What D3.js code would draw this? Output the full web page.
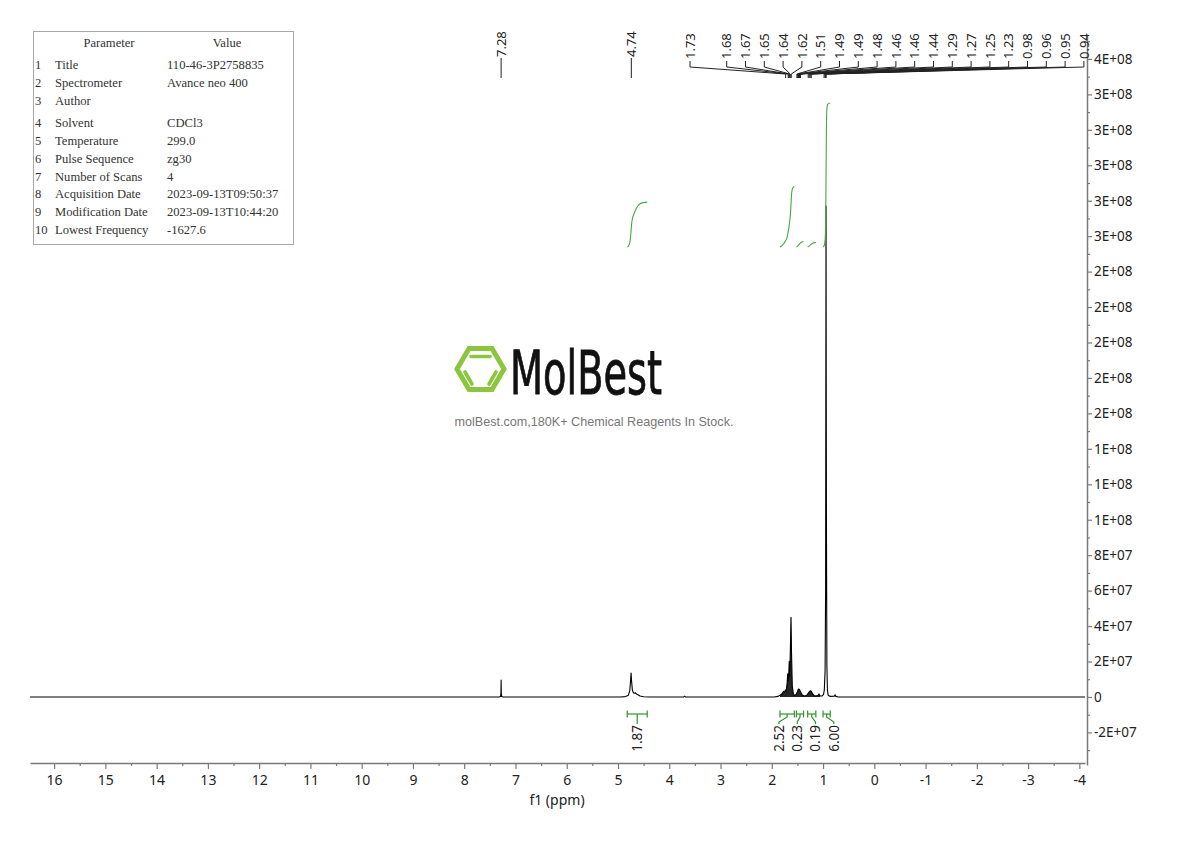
<!DOCTYPE html>
<html>
<head>
<meta charset="utf-8">
<script src="https://cdn.jsdelivr.net/npm/d3@7"></script>
<style>
  html, body { margin: 0; padding: 0; background: #fff; }
  svg { display: block; }
</style>
</head>
<body>
<svg id="chart" width="1190" height="841"></svg>
<script>
// ---------------- DATA ----------------
// spectrum: [ppm, intensity]
const spectrum = [
  [16.47, 0], [7.32, 0], [7.29, 3e5], [7.283, 2.5e6], [7.28, 9.6e6], [7.277, 2.5e6], [7.27, 3e5], [7.24, 0],
  [4.95, 0], [4.86, 2e5], [4.80, 8e5], [4.77, 3.5e6], [4.755, 9e6], [4.745, 1.35e7], [4.735, 9e6],
  [4.72, 4e6], [4.70, 2.4e6], [4.68, 2.1e6], [4.66, 2.3e6], [4.64, 1.6e6], [4.61, 1.2e6], [4.57, 5e5],
  [4.50, 1.5e5], [4.40, 0],
  [3.72, 0], [3.70, 4e5], [3.68, 0],
  [1.95, 0], [1.88, 3e5], [1.84, 9e5], [1.80, 1.8e6], [1.77, 3.2e6], [1.75, 2.5e6], [1.735, 4e6],
  [1.72, 3e6], [1.70, 8e6], [1.69, 1.3e7], [1.68, 9e6], [1.67, 1.1e7], [1.66, 2.0e7], [1.65, 1.2e7],
  [1.635, 3e7], [1.625, 4.5e7], [1.615, 2.5e7], [1.60, 6e6], [1.58, 2e6], [1.56, 8e5], [1.53, 1.2e6],
  [1.50, 3e6], [1.48, 4.5e6], [1.46, 4.2e6], [1.44, 3e6], [1.41, 1.2e6], [1.37, 5e5], [1.32, 8e5],
  [1.28, 2.5e6], [1.25, 3.5e6], [1.23, 3.2e6], [1.20, 1.5e6], [1.16, 5e5], [1.10, 8e5], [1.08, 1.7e6],
  [1.06, 6e5], [1.02, 5e5], [0.99, 1.5e6], [0.975, 4e6], [0.96, 1.5e7], [0.95, 6e7], [0.942, 2.77e8],
  [0.934, 1.0e8], [0.925, 1.8e7], [0.915, 4e6], [0.90, 1e6], [0.86, 3e5], [0.78, 4e5], [0.765, 1.2e6],
  [0.75, 3e5], [0.70, 0],
  [-4.11, 0]
];

// peak picking labels (ppm)
const singlePeaks = [7.28, 4.74];
const multipletPeaks = [1.73, 1.68, 1.67, 1.65, 1.64, 1.62, 1.51, 1.49, 1.49, 1.48, 1.46, 1.46, 1.44,
                        1.29, 1.27, 1.25, 1.23, 0.98, 0.96, 0.95, 0.94];

// integrals: ranges (ppm from, ppm to) and values
const integralFrom = [4.82, 1.84, 1.52, 1.30, 1.00];
const integralTo   = [4.43, 1.56, 1.38, 1.14, 0.86];
const integralValues = [1.87, 2.52, 0.23, 0.19, 6.00];

// axes ticks
const xTicks = [16, 15, 14, 13, 12, 11, 10, 9, 8, 7, 6, 5, 4, 3, 2, 1, 0, -1, -2, -3, -4];
const xTickLabels = ["16", "15", "14", "13", "12", "11", "10", "9", "8", "7", "6", "5", "4", "3", "2", "1", "0", "-1", "-2", "-3", "-4"];
const yTicks = [-2e7, 0, 2e7, 4e7, 6e7, 8e7, 1e8, 1.2e8, 1.4e8, 1.6e8, 1.8e8, 2e8, 2.2e8, 2.4e8, 2.6e8, 2.8e8, 3e8, 3.2e8, 3.4e8, 3.6e8];
const yTickLabels = ["-2E+07", "0", "2E+07", "4E+07", "6E+07", "8E+07", "1E+08", "1E+08", "1E+08", "2E+08", "2E+08", "2E+08", "2E+08", "2E+08", "3E+08", "3E+08", "3E+08", "3E+08", "3E+08", "4E+08"];

// parameter table
const paramNames = ["Title", "Spectrometer", "Author", "Solvent", "Temperature", "Pulse Sequence",
                    "Number of Scans", "Acquisition Date", "Modification Date", "Lowest Frequency"];
const paramValues = ["110-46-3P2758835", "Avance neo 400", "", "CDCl3", "299.0", "zg30", "4",
                     "2023-09-13T09:50:37", "2023-09-13T10:44:20", "-1627.6"];

// ---------------- CHART ----------------
const svg = d3.select("#chart");

const x = d3.scaleLinear().domain([16.47, -4.11]).range([30, 1085]);
const y = d3.scaleLinear().domain([-3.84e7, 3.735e8]).range([765, 35]);

const sans = "'Noto Sans', 'Open Sans', 'DejaVu Sans', sans-serif";

// ---- x axis ----
const xAxisY = 763;
const gx = svg.append("g").attr("transform", `translate(0,${xAxisY})`)
  .call(d3.axisBottom(x).tickValues(xTicks).tickFormat((d, i) => xTickLabels[i])
        .tickSize(6).tickSizeOuter(0).tickPadding(6));
gx.select(".domain").attr("stroke", "#7a7a7a").attr("stroke-width", 1.5);
gx.selectAll(".tick line").attr("stroke", "#7a7a7a").attr("stroke-width", 1.2);
gx.selectAll(".tick text").attr("font-family", sans).attr("font-size", 14).attr("fill", "#222");
const xMinor = xTicks.slice(0, -1).map(d => d - 0.5);
const gxm = svg.append("g").attr("transform", `translate(0,${xAxisY})`)
  .call(d3.axisBottom(x).tickValues(xMinor).tickFormat("").tickSize(3).tickSizeOuter(0));
gxm.select(".domain").remove();
gxm.selectAll(".tick line").attr("stroke", "#7a7a7a").attr("stroke-width", 1.2);
svg.append("text").attr("x", 557).attr("y", 805).attr("text-anchor", "middle")
  .attr("font-family", sans).attr("font-size", 14).attr("fill", "#222").text("f1 (ppm)");

// ---- y axis (right) ----
const yAxisX = 1087;
const gy = svg.append("g").attr("transform", `translate(${yAxisX},0)`)
  .call(d3.axisRight(y).tickValues(yTicks).tickFormat((d, i) => yTickLabels[i])
        .tickSize(5).tickSizeOuter(0).tickPadding(2));
gy.select(".domain").attr("stroke", "#7a7a7a").attr("stroke-width", 1.5);
gy.selectAll(".tick line").attr("stroke", "#7a7a7a").attr("stroke-width", 1.2);
gy.selectAll(".tick text").attr("font-family", sans).attr("font-size", 13.5).attr("fill", "#222");
const yMinor = yTicks.map(d => d + 1e7).filter(d => d <= 3.735e8);
yMinor.unshift(-3e7);
const gym = svg.append("g").attr("transform", `translate(${yAxisX},0)`)
  .call(d3.axisRight(y).tickValues(yMinor).tickFormat("").tickSize(3).tickSizeOuter(0));
gym.select(".domain").remove();
gym.selectAll(".tick line").attr("stroke", "#7a7a7a").attr("stroke-width", 1.2);

// ---- spectrum ----
const line = d3.line().x(d => x(d[0])).y(d => y(d[1]));
svg.append("path").datum(spectrum).attr("d", line)
  .attr("fill", "none").attr("stroke", "#000").attr("stroke-width", 1.1).attr("stroke-linejoin", "round");
const clusterPts = spectrum.filter(d => d[0] <= 1.84 && d[0] >= 1.06);
svg.append("path").datum(clusterPts)
  .attr("d", d3.area().x(d => x(d[0])).y0(y(0)).y1(d => y(d[1])))
  .attr("fill", "#000").attr("opacity", 0.85);

// ---- integrals ----
function interp(ppm) {
  for (let i = 0; i < spectrum.length - 1; i++) {
    const a = spectrum[i], b = spectrum[i + 1];
    if (ppm <= a[0] && ppm >= b[0]) {
      const t = (a[0] - ppm) / (a[0] - b[0]);
      return a[1] + t * (b[1] - a[1]);
    }
  }
  return 0;
}
const integralBase = 247, pxPerUnit = 24;
const greenCurve = "#4aa34a", greenBracket = "#2f932f";
integralValues.forEach((val, k) => {
  const hi = integralFrom[k], lo = integralTo[k];
  const pts = [[hi, interp(hi)]].concat(spectrum.filter(d => d[0] < hi && d[0] > lo)).concat([[lo, interp(lo)]]);
  const cum = [0];
  for (let i = 1; i < pts.length; i++) {
    cum.push(cum[i - 1] + (pts[i - 1][0] - pts[i][0]) * (pts[i - 1][1] + pts[i][1]) / 2);
  }
  const total = cum[cum.length - 1];
  const curve = pts.map((p, i) => [x(p[0]), integralBase - cum[i] / total * val * pxPerUnit]);
  svg.append("path").datum(curve).attr("d", d3.line().curve(d3.curveMonotoneX))
    .attr("fill", "none").attr("stroke", greenCurve).attr("stroke-width", 1.1);
});

// integral brackets + labels
const bY = 714;
const centers = integralValues.map((v, k) => (x(integralFrom[k]) + x(integralTo[k])) / 2);
const minGap = 18.3;
const labelX = centers.slice();
let groups = [[0]];
for (let k = 1; k < centers.length; k++) {
  if (centers[k] - centers[k - 1] < minGap) groups[groups.length - 1].push(k); else groups.push([k]);
}
groups.forEach(g => {
  if (g.length < 2) return;
  const m = d3.mean(g, k => centers[k]);
  g.forEach((k, j) => { labelX[k] = m + (j - (g.length - 1) / 2) * minGap; });
});
integralValues.forEach((val, k) => {
  const x1 = x(integralFrom[k]), x2 = x(integralTo[k]), cx = centers[k], lx = labelX[k];
  const g = svg.append("g").attr("stroke", greenBracket).attr("stroke-width", 1.2).attr("fill", "none");
  g.append("line").attr("x1", x1).attr("x2", x2).attr("y1", bY).attr("y2", bY);
  g.append("line").attr("x1", x1).attr("x2", x1).attr("y1", bY - 3.5).attr("y2", bY + 3.5);
  g.append("line").attr("x1", x2).attr("x2", x2).attr("y1", bY - 3.5).attr("y2", bY + 3.5);
  g.append("path").attr("d", `M${cx},${bY}L${cx},${bY + 3}L${lx},${bY + 8}L${lx},${bY + 10}`);
  svg.append("text").attr("transform", `translate(${lx},${bY + 11}) rotate(-90)`)
    .attr("text-anchor", "end").attr("dy", "0.36em")
    .attr("font-family", sans).attr("font-size", 13.5).attr("fill", "#222")
    .text(val.toFixed(2));
});

// ---- peak labels ----
const pkFont = 13;
singlePeaks.forEach(p => {
  const px = x(p);
  svg.append("line").attr("x1", px).attr("x2", px).attr("y1", 58).attr("y2", 78)
    .attr("stroke", "#222").attr("stroke-width", 1);
  svg.append("text").attr("transform", `translate(${px},57) rotate(-90)`)
    .attr("text-anchor", "start").attr("dy", "0.36em")
    .attr("font-family", sans).attr("font-size", pkFont).attr("fill", "#222").text(p.toFixed(2));
});
const mStart = 726.7, mStep = 18.8, mFirst = 690;
multipletPeaks.forEach((p, i) => {
  const lx = i === 0 ? mFirst : mStart + (i - 1) * mStep;
  const px = x(p);
  svg.append("path").attr("d", `M${lx},61L${lx},67L${px},74L${px},78`)
    .attr("fill", "none").attr("stroke", "#222").attr("stroke-width", 1);
  svg.append("text").attr("transform", `translate(${lx},59) rotate(-90)`)
    .attr("text-anchor", "start").attr("dy", "0.36em")
    .attr("font-family", sans).attr("font-size", pkFont).attr("fill", "#222").text(p.toFixed(2));
});

// ---- parameter table ----
const serif = "'Liberation Serif', 'DejaVu Serif', serif";
svg.append("rect").attr("x", 33.5).attr("y", 31.5).attr("width", 260).attr("height", 213)
  .attr("fill", "#fff").attr("stroke", "#a8a8a8").attr("stroke-width", 1);
const tbl = svg.append("g").attr("font-family", serif).attr("font-size", 12.6).attr("fill", "#333");
tbl.append("text").attr("x", 109).attr("y", 47).attr("text-anchor", "middle").text("Parameter");
tbl.append("text").attr("x", 227).attr("y", 47).attr("text-anchor", "middle").text("Value");
const rowY = [65, 83, 101, 123, 141, 159, 177, 194, 212, 230];
paramNames.forEach((n, i) => {
  tbl.append("text").attr("x", 35).attr("y", rowY[i] + 4).text(String(i + 1));
  tbl.append("text").attr("x", 55).attr("y", rowY[i] + 4).text(n);
  tbl.append("text").attr("x", 167).attr("y", rowY[i] + 4).text(paramValues[i]);
});

// ---- watermark logo ----
const green = "#8cc63f";
const logo = svg.append("g");
logo.append("path")
  .attr("d", "M457,369L469,348.5L492,348.5L504,369L492,389.5L469,389.5Z")
  .attr("fill", "none").attr("stroke", green).attr("stroke-width", 5).attr("stroke-linejoin", "miter");
logo.append("path").attr("d", "M471,356.5L490,356.5 M465,372L472,384 M496,372L489,384")
  .attr("fill", "none").attr("stroke", green).attr("stroke-width", 3.6).attr("stroke-linecap", "round");
logo.append("text").attr("x", 510).attr("y", 394)
  .attr("font-family", "'Liberation Sans Narrow', 'DejaVu Sans Condensed', sans-serif")
  .attr("font-size", 60).attr("fill", "#111").attr("stroke", "#111").attr("stroke-width", 0.8)
  .attr("textLength", 152).attr("lengthAdjust", "spacingAndGlyphs").text("MolBest");
logo.append("text").attr("x", 594).attr("y", 426).attr("text-anchor", "middle")
  .attr("font-family", "'Liberation Sans', Arial, sans-serif").attr("font-size", 12.6).attr("fill", "#777")
  .text("molBest.com,180K+ Chemical Reagents In Stock.");
</script>
</body>
</html>
